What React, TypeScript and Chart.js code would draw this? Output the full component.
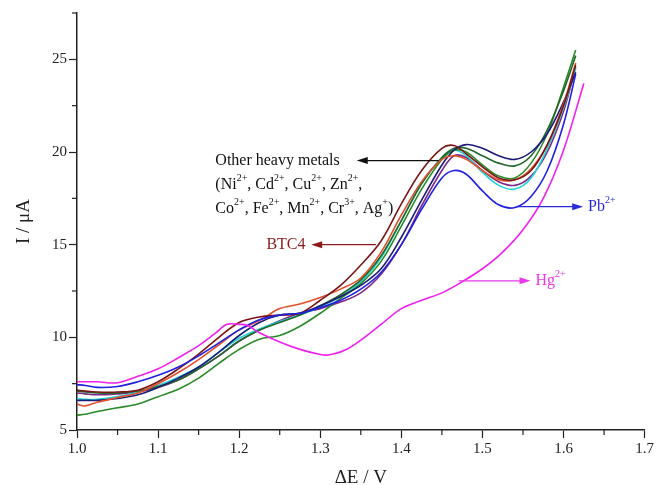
import React, { useEffect, useRef } from "react";
import { Chart, registerables } from "chart.js";

Chart.register(...registerables);

// Shared potential grid (V) for the group of curves
const potentials = [1.0, 1.01, 1.025, 1.05, 1.075, 1.1, 1.125, 1.15, 1.175, 1.2, 1.225, 1.25, 1.275, 1.3, 1.325, 1.35, 1.375, 1.4, 1.425, 1.45, 1.465, 1.48, 1.5, 1.52, 1.54, 1.56, 1.58, 1.6, 1.615];

const btc4 = [7.15, 7.1, 7.05, 7.05, 7.15, 7.6, 8.3, 9.1, 10.0, 10.8, 11.1, 11.2, 11.3, 12.0, 12.8, 13.9, 15.2, 17.2, 19.0, 20.2, 20.35, 19.9, 19.2, 18.6, 18.5, 19.0, 20.4, 22.5, 24.7];
const orangeRed = [6.4, 6.3, 6.5, 6.75, 7.0, 7.5, 8.1, 8.8, 9.6, 10.4, 10.9, 11.55, 11.8, 12.15, 12.6, 13.2, 14.6, 16.6, 18.4, 19.6, 19.8, 19.6, 19.0, 18.5, 18.5, 19.1, 20.4, 22.6, 24.8];
const navy = [6.6, 6.6, 6.6, 6.7, 6.9, 7.3, 7.8, 8.4, 9.2, 10.1, 10.8, 11.2, 11.3, 11.7, 12.2, 12.8, 13.7, 15.4, 17.4, 19.3, 20.1, 20.4, 20.2, 19.8, 19.6, 20.0, 21.0, 22.7, 24.3];
const darkGreen = [7.1, 7.05, 7.0, 7.0, 7.1, 7.35, 7.7, 8.3, 9.0, 9.8, 10.4, 10.8, 11.2, 11.7, 12.3, 13.1, 14.4, 16.3, 18.3, 19.7, 20.2, 20.2, 19.8, 19.4, 19.25, 19.8, 21.2, 23.3, 25.2];
const green = [5.8, 5.85, 6.0, 6.2, 6.4, 6.8, 7.2, 7.8, 8.6, 9.35, 9.9, 10.1, 10.6, 11.3, 12.1, 12.9, 14.1, 16.0, 18.0, 19.6, 20.1, 20.0, 19.3, 18.7, 18.6, 19.4, 21.0, 23.5, 25.5];
const cyan = [6.7, 6.65, 6.65, 6.8, 7.05, 7.4, 7.85, 8.4, 9.2, 9.95, 10.45, 10.85, 11.2, 11.65, 12.2, 13.0, 14.3, 16.3, 18.3, 19.7, 20.1, 19.8, 18.9, 18.2, 18.0, 18.6, 20.2, 22.4, 24.5];
const purple = [7.0, 6.95, 6.9, 6.95, 7.05, 7.3, 7.7, 8.3, 9.0, 9.8, 10.4, 10.9, 11.3, 11.55, 11.9, 12.4, 13.4, 15.0, 17.1, 19.0, 19.8, 19.7, 19.0, 18.4, 18.2, 18.7, 20.0, 22.2, 24.6];
const pb = [7.45, 7.4, 7.3, 7.35, 7.6, 7.95, 8.4, 9.0, 9.7, 10.4, 10.95, 11.2, 11.3, 11.6, 12.0, 12.6, 13.5, 15.0, 16.9, 18.6, 19.0, 18.8, 17.9, 17.15, 17.0, 17.6, 19.0, 21.5, 24.2];

// Hg2+ curve has its own potential grid
const hgPotentials = [1.0, 1.025, 1.05, 1.075, 1.1, 1.125, 1.15, 1.17, 1.185, 1.2, 1.21, 1.225, 1.25, 1.275, 1.3, 1.31, 1.33, 1.35, 1.375, 1.4, 1.425, 1.45, 1.475, 1.5, 1.525, 1.55, 1.575, 1.6, 1.625];
const hg = [7.6, 7.6, 7.55, 7.9, 8.3, 8.9, 9.55, 10.2, 10.7, 10.7, 10.65, 10.25, 9.75, 9.35, 9.07, 9.05, 9.3, 9.85, 10.7, 11.55, 12.0, 12.4, 13.0, 13.7, 14.6, 15.8, 17.5, 20.1, 23.7];

// Axis ticks
const xMajorStep = 0.1;
const xMinorTicks = [1.05, 1.15, 1.25, 1.35, 1.45, 1.55, 1.65];
const yMajorStep = 5;
const yMinorTicks = [7.5, 12.5, 17.5, 22.5, 27.5];

const FONT = "'Liberation Serif', 'Times New Roman', serif";

type Seg = [string, boolean];
type Note = {
  lines: Seg[][];
  x: number;
  y: number;
  lineStep: number;
  color: string;
  arrowFrom?: [number, number];
  arrowTo?: [number, number];
};

const notes: Note[] = [
  {
    lines: [
      [["Other heavy metals", false]],
      [["(Ni", false], ["2+", true], [", Cd", false], ["2+", true], [", Cu", false], ["2+", true], [", Zn", false], ["2+", true], [",", false]],
      [["Co", false], ["2+", true], [", Fe", false], ["2+", true], [", Mn", false], ["2+", true], [", Cr", false], ["3+", true], [", Ag", false], ["+", true], [")", false]],
    ],
    x: 1.1706, y: 19.54, lineStep: 1.3, color: "#111111",
    arrowFrom: [1.446, 19.54], arrowTo: [1.345, 19.54],
  },
  {
    lines: [[["BTC4", false]]],
    x: 1.2336, y: 15.0, lineStep: 0, color: "#8b1a1a",
    arrowFrom: [1.3686, 15.0], arrowTo: [1.2888, 15.0],
  },
  {
    lines: [[["Pb", false], ["2+", true]]],
    x: 1.6303, y: 17.05, lineStep: 0, color: "#2a2ad8",
    arrowFrom: [1.542, 17.05], arrowTo: [1.6242, 17.05],
  },
  {
    lines: [[["Hg", false], ["2+", true]]],
    x: 1.5654, y: 13.05, lineStep: 0, color: "#e838e8",
    arrowFrom: [1.4707, 13.05], arrowTo: [1.5593, 13.05],
  },
];

const series = [
  { label: "Hg2+", xs: hgPotentials, ys: hg, color: "#f020f0" },
  { label: "Pb2+", xs: potentials, ys: pb, color: "#2020e0" },
  { label: "BTC4", xs: potentials, ys: btc4, color: "#7a1515" },
  { label: "Ion A", xs: potentials, ys: orangeRed, color: "#e0502e" },
  { label: "Ion B", xs: potentials, ys: navy, color: "#1c1c78" },
  { label: "Ion C", xs: potentials, ys: darkGreen, color: "#22662a" },
  { label: "Ion D", xs: potentials, ys: green, color: "#2a8a2a" },
  { label: "Ion E", xs: potentials, ys: cyan, color: "#22d4d8" },
  { label: "Ion F", xs: potentials, ys: purple, color: "#7a2a88" },
];

const minorTickPlugin = {
  id: "minorTicks",
  afterDraw(chart: any) {
    const { ctx, scales } = chart;
    const x = scales.x;
    const y = scales.y;
    ctx.save();
    ctx.strokeStyle = "#222";
    ctx.lineWidth = 1.2;
    for (const v of xMinorTicks) {
      const px = x.getPixelForValue(v);
      ctx.beginPath();
      ctx.moveTo(px, y.bottom);
      ctx.lineTo(px, y.bottom + 5);
      ctx.stroke();
    }
    for (const v of yMinorTicks) {
      const py = y.getPixelForValue(v);
      ctx.beginPath();
      ctx.moveTo(x.left, py);
      ctx.lineTo(x.left - 5, py);
      ctx.stroke();
    }
    ctx.restore();
  },
};

const notesPlugin = {
  id: "notes",
  afterDatasetsDraw(chart: any) {
    const { ctx, scales } = chart;
    const x = scales.x;
    const y = scales.y;
    ctx.save();
    for (const n of notes) {
      ctx.fillStyle = n.color;
      ctx.strokeStyle = n.color;
      ctx.textBaseline = "middle";
      ctx.textAlign = "left";
      n.lines.forEach((line, i) => {
        let px = x.getPixelForValue(n.x);
        const py = y.getPixelForValue(n.y - i * n.lineStep);
        for (const [t, sup] of line) {
          ctx.font = sup ? `10px ${FONT}` : `16px ${FONT}`;
          ctx.fillText(t, px, sup ? py - 6 : py);
          px += ctx.measureText(t).width;
        }
      });
      if (n.arrowFrom && n.arrowTo) {
        const x1 = x.getPixelForValue(n.arrowFrom[0]);
        const y1 = y.getPixelForValue(n.arrowFrom[1]);
        const x2 = x.getPixelForValue(n.arrowTo[0]);
        const y2 = y.getPixelForValue(n.arrowTo[1]);
        const dir = Math.sign(x2 - x1);
        ctx.lineWidth = 1.3;
        ctx.beginPath();
        ctx.moveTo(x1, y1);
        ctx.lineTo(x2 - dir * 8, y2);
        ctx.stroke();
        ctx.beginPath();
        ctx.moveTo(x2, y2);
        ctx.lineTo(x2 - dir * 11, y2 - 3.5);
        ctx.lineTo(x2 - dir * 11, y2 + 3.5);
        ctx.closePath();
        ctx.fill();
      }
    }
    ctx.restore();
  },
};

export default function App() {
  const canvasRef = useRef<HTMLCanvasElement | null>(null);

  useEffect(() => {
    const canvas = canvasRef.current;
    if (!canvas) return;
    const chart = new Chart(canvas, {
      type: "line",
      data: {
        datasets: series.map((s) => ({
          label: s.label,
          data: s.xs.map((v, i) => ({ x: v, y: s.ys[i] })),
          borderColor: s.color,
          backgroundColor: s.color,
          borderWidth: 1.6,
          pointRadius: 0,
          tension: 0.35,
          fill: false,
        })),
      },
      options: {
        animation: false,
        responsive: false,
        devicePixelRatio: 1,
        layout: { padding: { left: 0, top: 13, right: 10, bottom: 0 } },
        plugins: { legend: { display: false }, tooltip: { enabled: false } },
        scales: {
          x: {
            type: "linear",
            min: 1.0,
            max: 1.7,
            afterFit: (scale: any) => {
              scale.height = 55;
            },
            border: { display: true, color: "#222", width: 1.5 },
            grid: { display: true, drawOnChartArea: false, drawTicks: true, tickLength: 8, color: "#222", tickWidth: 1.2 },
            ticks: {
              stepSize: xMajorStep,
              padding: 2,
              color: "#222",
              font: { family: FONT, size: 15 },
              maxRotation: 0,
              callback: (v: any) => Number(v).toFixed(1),
            },
            title: {
              display: true,
              text: "ΔE / V",
              color: "#222",
              font: { family: FONT, size: 19, lineHeight: 0.75 },
              padding: { top: 0, bottom: 0 },
            },
          },
          y: {
            type: "linear",
            min: 5,
            max: 27.5,
            afterFit: (scale: any) => {
              scale.width = 77;
            },
            border: { display: true, color: "#222", width: 1.5 },
            grid: { display: true, drawOnChartArea: false, drawTicks: true, tickLength: 8, color: "#222", tickWidth: 1.2 },
            ticks: {
              stepSize: yMajorStep,
              includeBounds: false,
              padding: 2,
              color: "#222",
              font: { family: FONT, size: 15 },
              callback: (v: any) => String(v),
            },
            title: {
              display: true,
              text: "I / μA",
              color: "#222",
              font: { family: FONT, size: 19, lineHeight: 1.2 },
              padding: { top: 13, bottom: 0 },
            },
          },
        },
      },
      plugins: [minorTickPlugin, notesPlugin],
    } as any);
    return () => chart.destroy();
  }, []);

  return (
    <div style={{ position: "fixed", left: 0, top: 0, width: 656, height: 485, background: "#fff" }}>
      <canvas ref={canvasRef} width={656} height={485} />
    </div>
  );
}
